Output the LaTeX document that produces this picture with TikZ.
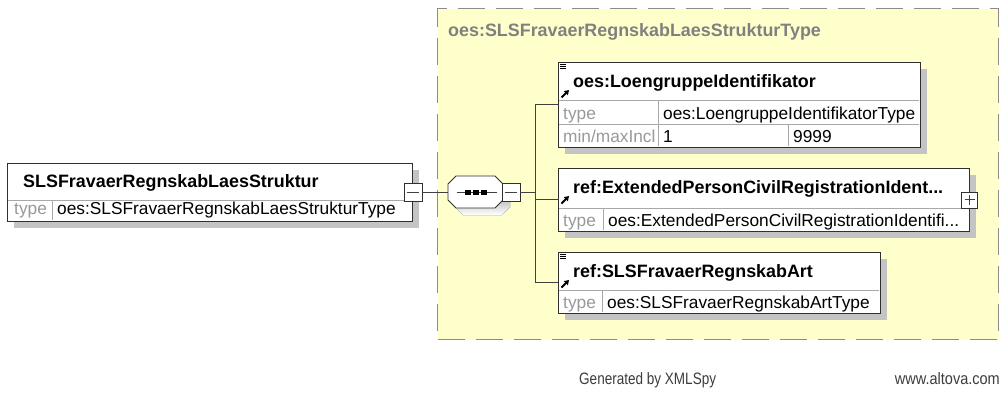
\documentclass[tikz,border=0pt]{standalone}
\usepackage{fontspec}
\setmainfont{Liberation Sans}
\usepackage{tikz}
\usetikzlibrary{arrows.meta,positioning,shadows}
\definecolor{cplxfill}{HTML}{FFFFCC}
\definecolor{cplxline}{HTML}{8C8C8C}
\definecolor{cplxtext}{HTML}{808080}
\definecolor{boxline}{HTML}{303030}
\definecolor{gridline}{HTML}{A8A8A8}
\definecolor{keygray}{HTML}{999999}
\definecolor{shade}{HTML}{C4C4C4}
\definecolor{wirecol}{HTML}{404040}
\definecolor{footgray}{HTML}{3C3C3C}

\begin{document}
\begin{tikzpicture}[
    x=1pt, y=-1pt,
    font=\fontsize{17.3}{20}\selectfont,
    cplx/.style={draw=cplxline, fill=cplxfill, line width=1.3pt, dash pattern=on 27pt off 11pt, anchor=north west, inner sep=0},
    elbox/.style={draw=boxline, fill=white, anchor=north west, inner sep=0, line width=0.8pt,
      drop shadow={shadow xshift=7pt, shadow yshift=-7pt, opacity=1, fill=shade}},
    title/.style={font=\fontsize{17.9}{20}\selectfont\bfseries, anchor=base west, inner sep=0},
    cell/.style={anchor=base west, inner sep=0},
    key/.style={cell, text=keygray},
    rowline/.style={draw=gridline, line width=0.8pt},
    wire/.style={draw=wirecol, line width=0.9pt},
    minusbox/.style={draw=boxline, fill=white, minimum size=18pt, inner sep=0, line width=0.8pt},
    plusbox/.style={draw=boxline, fill=white, minimum size=16pt, inner sep=0, line width=0.8pt},
    foot/.style={inner sep=0, text=footgray, font=\fontsize{16.5}{18}\selectfont}
]
\useasboundingbox (0,0) rectangle (1004,392);

% complex type area
\node[cplx, minimum width=561pt, minimum height=331pt] (cplx) at (437,8) {};
\node[title, text=cplxtext] (cplxname) at (448,36) {oes:SLSFravaerRegnskabLaesStrukturType};

% root element
\node[elbox, minimum width=405pt, minimum height=58pt] (lsv) at (7,163) {};
\draw[rowline] (8,200) -- (411,200);
\draw[rowline] (52,200) -- (52,220);
\node[title] (lsvname) at (23,187) {SLSFravaerRegnskabLaesStruktur};
\node[key] (lsvkey) at (14,214) {type};
\node[cell] (lsvtype) at (57,214) {oes:SLSFravaerRegnskabLaesStrukturType};
\node[minusbox] (lmin) at (413,192) {};
\draw[wire] ([xshift=-6pt]lmin.center) -- ([xshift=6pt]lmin.center);

% sequence
\coordinate (seqW) at (448,192);
\fill[shade, shift={(7,7)}] (456,176) -- (495,176) -- (503,184) -- (503,200) -- (495,208) -- (456,208) -- (448,200) -- (448,184) -- cycle;
\filldraw[fill=white, draw=boxline, line width=0.8pt] (456,176) -- (495,176) -- (503,184) -- (503,200) -- (495,208) -- (456,208) -- (448,200) -- (448,184) -- cycle;
\draw[wire] (457,192) -- (497,192);
\foreach \x in {465,473,481}
  \fill (\x,189.5) rectangle ++(6,5);
\node[minusbox] (smin) at (511,192) {};
\draw[wire] ([xshift=-6pt]smin.center) -- ([xshift=6pt]smin.center);

% child elements
\node[elbox, minimum width=362pt, minimum height=85pt] (loe) at (558,62) {};
\draw[rowline] (559,100) -- (919,100);
\draw[rowline] (559,124) -- (919,124);
\draw[rowline] (658,100) -- (658,146);
\draw[rowline] (788,124) -- (788,146);
\node[title] (loename) at (573,87) {oes:LoengruppeIdentifikator};
\node[key] (loekey) at (563,119) {type};
\node[cell] (loetype) at (663,119) {oes:LoengruppeIdentifikatorType};
\node[key] (loemkey) at (563,142) {min/maxIncl};
\node[cell] (loemin) at (663,142) {1};
\node[cell] (loemax) at (793,142) {9999};

\node[elbox, minimum width=411pt, minimum height=63pt] (cpr) at (558,168) {};
\draw[rowline] (559,208) -- (968,208);
\draw[rowline] (603,208) -- (603,230);
\node[title] (cprname) at (573,193) {ref:ExtendedPersonCivilRegistrationIdent...};
\node[key] (cprkey) at (563,226) {type};
\node[cell] (cprtype) at (608,226) {oes:ExtendedPersonCivilRegistrationIdentifi...};
\node[plusbox] (cprplus) at (cpr.east) {};
\draw[wire] ([xshift=-5pt]cprplus.center) -- ([xshift=5pt]cprplus.center);
\draw[wire] ([yshift=-5pt]cprplus.center) -- ([yshift=5pt]cprplus.center);

\node[elbox, minimum width=322pt, minimum height=61pt] (art) at (558,252) {};
\draw[rowline] (559,290) -- (879,290);
\draw[rowline] (602,290) -- (602,312);
\node[title] (artname) at (573,277) {ref:SLSFravaerRegnskabArt};
\node[key] (artkey) at (563,308) {type};
\node[cell] (arttype) at (607,308) {oes:SLSFravaerRegnskabArtType};

% icons
\foreach \t in {62,252}
  \foreach \d in {2.5,4.5,6.5}
    \draw[line width=0.7pt] (560,\t+\d) -- (566,\t+\d);
\foreach \t in {62,168,252}
  \draw[-{Triangle[length=4.5pt,width=5.5pt]}, line width=1.8pt] (561.5,\t+35.5) -- (569,\t+28);

% connectors
\coordinate (fork) at (535,192);
\draw[wire] (lmin.east) -- (seqW);
\draw[wire] (smin.east) -- (fork);
\draw[wire] (fork |- loe.west) -- (fork |- art.west);
\foreach \e in {loe,cpr,art}
  \draw[wire] (fork |- \e.west) -- (\e.west);

% footer
\node[foot, anchor=base west] (gen) at (579,384) {\scalebox{0.82}[1]{Generated by XMLSpy}};
\node[foot, anchor=base east] (alt) at (1000,384) {\scalebox{0.88}[1]{www.altova.com}};
\end{tikzpicture}
\end{document}
